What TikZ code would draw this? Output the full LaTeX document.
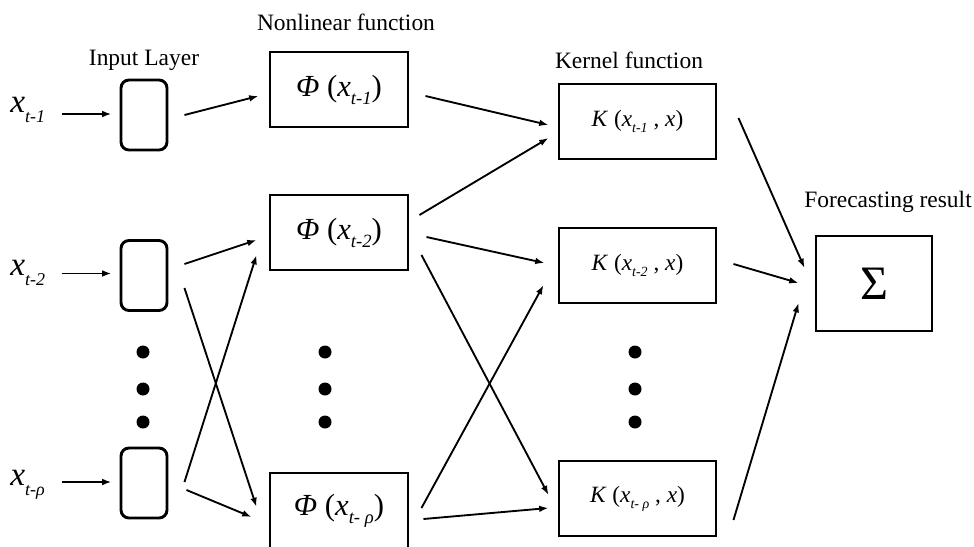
\documentclass[tikz,border=0pt]{standalone}
\usepackage{fontspec}
\setmainfont{Liberation Serif}
\usetikzlibrary{arrows.meta,calc}
\newcommand\fs[1]{\fontsize{#1}{#1}\selectfont}
\newcommand\lowsub[3]{\raisebox{-#2}{\fs{#1}\textit{#3}}}
\begin{document}
\begin{tikzpicture}[x=0.75pt,y=-0.75pt,
  inbox/.style={draw,line width=2.2pt,rounded corners=6pt,minimum width=34.5pt,minimum height=52.5pt,inner sep=0pt},
  phibox/.style={draw,line width=2.2pt,minimum width=103.5pt,minimum height=56.25pt,inner sep=0pt},
  kbox/.style={draw,line width=2.2pt,minimum width=117.75pt,minimum height=56.25pt,inner sep=0pt},
  sbox/.style={draw,line width=2.2pt,minimum width=87pt,minimum height=71.25pt,inner sep=0pt},
  ttl/.style={font=\fs{17.6},anchor=base,inner sep=0pt},
  xlab/.style={anchor=base west,inner sep=0pt,font=\fs{25}},
  arr/.style={line width=1.4pt,-{Latex[length=7pt,width=5pt]}},
  dot/.style={circle,fill=black,minimum size=9.75pt,inner sep=0pt}]
\useasboundingbox (0,0) rectangle (974,546);
% titles
\node[ttl] (tin) at (144,65) {Input Layer};
\node[ttl] (tnl) at (346,31) {Nonlinear function};
\node[ttl] (tk) at (629,68) {Kernel function};
\node[ttl] (tf) at (888,207) {Forecasting result};
% input labels
\node[xlab] (xl1) at (10,112) {\textit{x}\lowsub{13.5}{7.5pt}{t-1}};
\node[xlab] (xl2) at (10,275) {\textit{x}\lowsub{13.5}{7.5pt}{t-2}};
\node[xlab] (xl3) at (10,485) {\textit{x}\lowsub{13.5}{7.5pt}{t-ρ}};
% input boxes
\node[inbox] (in1) at (144,115) {};
\node[inbox] (in2) at (144,275.5) {};
\node[inbox] (in3) at (144,483) {};
% phi boxes
\node[phibox,font=\fs{23}] (phi1) at (339,89.5) {\textit{Φ} (\textit{x}\lowsub{14}{6pt}{t-1})};
\node[phibox,font=\fs{23}] (phi2) at (339,232.5) {\textit{Φ} (\textit{x}\lowsub{14}{6pt}{t-2})};
\node[phibox,font=\fs{23}] (phi3) at (339,510.5) {\textit{Φ} (\textit{x}\lowsub{14}{6pt}{t- ρ})};
% kernel boxes
\node[kbox,font=\fs{17.5}] (k1) at (637.5,121.5) {\textit{K} (\textit{x}\lowsub{10.5}{4.5pt}{t-1} , \textit{x})};
\node[kbox,font=\fs{17.5}] (k2) at (637.5,265.5) {\textit{K} (\textit{x}\lowsub{10.5}{4.5pt}{t-2} , \textit{x})};
\node[kbox,font=\fs{17.5}] (k3) at (637.5,498.5) {\textit{K} (\textit{x}\lowsub{10.5}{4.5pt}{t- ρ} , \textit{x})};
% sum box
\node[sbox,font=\fs{36}] (sig) at (874,283.5) {Σ};
% dots
\foreach \c/\xx in {a/143,b/325,c/635}{
  \node[dot] (d\c1) at (\xx,352) {};
  \node[dot] (d\c2) at (\xx,389) {};
  \node[dot] (d\c3) at (\xx,422) {};
}
% input arrows
\draw[arr] ($(in1.west)+(-58,-1)$) -- ($(in1.west)+(-8,-1)$);
\draw[arr] ($(in2.west)+(-58,-2)$) -- ($(in2.west)+(-8,-2)$);
\draw[arr] ($(in3.west)+(-58,-1)$) -- ($(in3.west)+(-8,-1)$);
% input -> phi
\draw[arr] ($(in1.east)+(16,0)$) -- ($(phi1.west)+(-10,6.5)$);
\draw[arr] ($(in2.east)+(16,-11.5)$) -- ($(phi2.west)+(-12,7.5)$);
\draw[arr] ($(in2.east)+(16,12.5)$) -- ($(phi3.west)+(-12,-3.5)$);
\draw[arr] ($(in3.east)+(16,-1)$) -- ($(phi2.west)+(-12,22.5)$);
\draw[arr] ($(in3.east)+(18,7)$) -- ($(phi3.west)+(-17,6.5)$);
% phi -> kernel
\draw[arr] ($(phi1.east)+(16,6.5)$) -- ($(k1.west)+(-9,3.5)$);
\draw[arr] ($(phi2.east)+(10,-17.5)$) -- ($(k1.west)+(-9,16.5)$);
\draw[arr] ($(phi2.east)+(17,4.5)$) -- ($(k2.west)+(-13,-2.5)$);
\draw[arr] ($(phi2.east)+(12,22.5)$) -- ($(k3.west)+(-9,-3.5)$);
\draw[arr] ($(phi3.east)+(12,-2.5)$) -- ($(k2.west)+(-14,19.5)$);
\draw[arr] ($(phi3.east)+(14,8.5)$) -- ($(k3.west)+(-9,9.5)$);
% kernel -> sum
\draw[arr] ($(k1.east)+(21,-3.5)$) -- ($(sig.west)+(-10,-15.5)$);
\draw[arr] ($(k2.east)+(16,-1.5)$) -- ($(sig.west)+(-16,-0.5)$);
\draw[arr] ($(k3.east)+(16,21.5)$) -- ($(sig.west)+(-16,19.5)$);
\end{tikzpicture}
\end{document}
